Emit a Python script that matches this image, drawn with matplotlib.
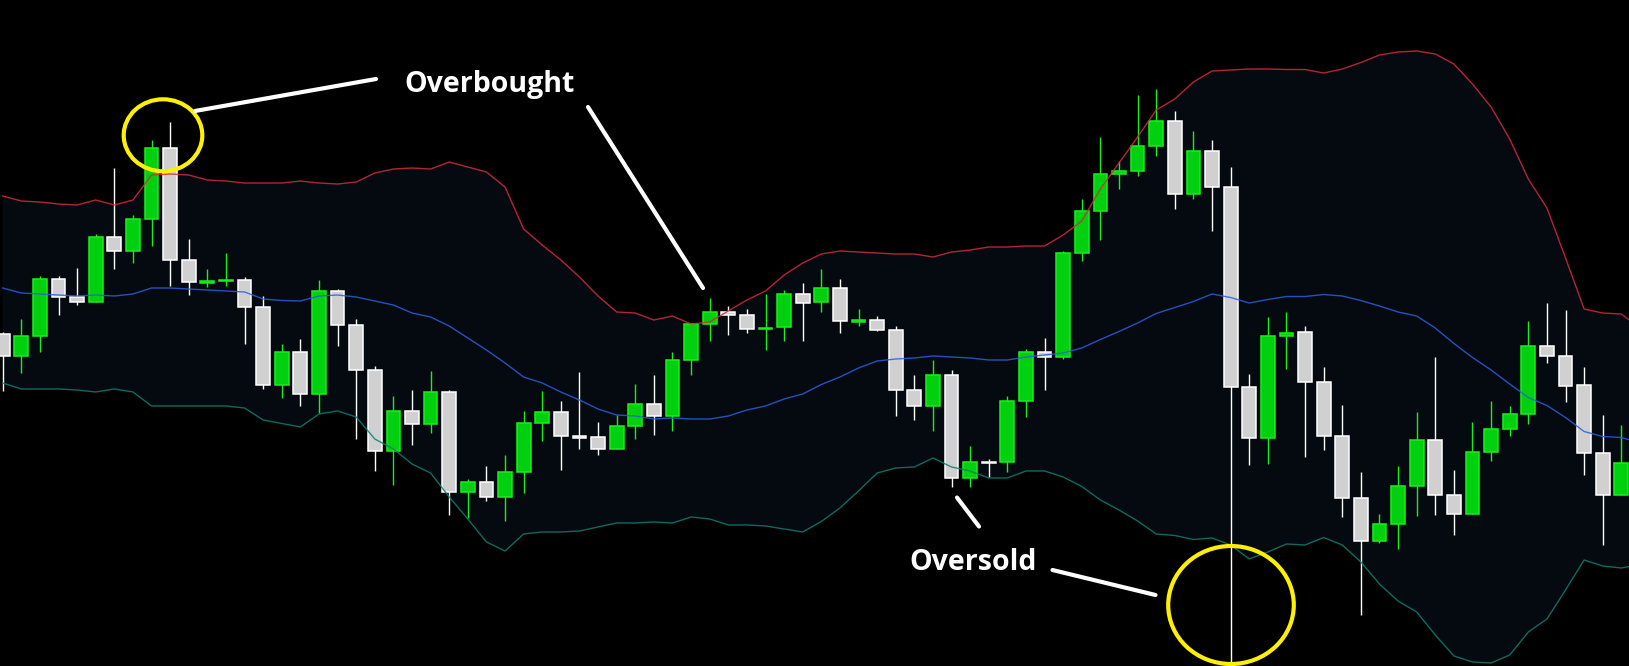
"""Candlestick chart with Bollinger Bands, marking an overbought and an oversold touch."""

import numpy as np
import matplotlib

matplotlib.use("Agg")
import matplotlib.pyplot as plt
from matplotlib.patches import Ellipse

# --- OHLC per bar (price units) -------------------------------------------
opens = [332, 310, 330, 387, 369, 364, 429, 415, 447, 518,
         406, 383.5, 385, 386, 359, 281, 314, 272, 375, 341,
         296, 215, 255, 242, 274, 174, 184, 169, 194, 243,
         254, 230, 229, 217, 240, 262, 250, 306, 342, 354,
         351, 337, 339, 372, 364, 378, 344.5, 346, 336, 276,
         260, 291, 188, 204, 204, 265, 314, 309, 413, 455,
         492, 495, 520, 545, 472, 515, 479.5, 279, 228, 330,
         334, 284, 230, 168, 125, 142, 180, 226, 171, 152,
         214, 237, 252, 320, 310, 281, 213, 171]
highs = [334, 347, 390, 390, 398, 432, 498, 451, 526, 544,
         427, 397, 413, 389, 370, 322, 327, 386, 377, 347,
         300, 270, 276, 295, 276, 187, 200, 211, 255, 275,
         265, 294, 244, 251, 282, 291, 314, 342, 368, 360,
         357, 372, 376, 383, 397, 387, 357, 350, 340, 291,
         306, 296, 220, 207, 270, 317, 328, 415, 467, 529,
         505, 571, 577, 555, 535, 526, 499, 292, 349, 354,
         340, 299, 261, 194, 152, 200, 254, 309, 196, 244,
         265, 260, 345, 363, 356, 299, 251, 241]
lows = [275, 293, 314, 351, 361, 364, 397, 403, 420, 380,
        371, 379, 380, 322, 277, 268, 260, 253, 320, 227,
        195, 181, 221, 233, 151, 148, 165, 145, 173, 225,
        196, 217, 211, 217, 227, 231, 235, 291, 325, 331,
        333, 316, 325, 325, 354, 333, 340, 335, 250, 246,
        235, 179, 179, 189, 194, 249, 276, 307, 405, 426,
        477, 490, 510, 457, 467, 435, -4, 201, 202, 297,
        209, 216, 149, 51, 123, 117, 150, 151, 131, 152,
        205, 230, 242, 303, 264, 191, 121, 171]
closes = [310, 330, 387, 369, 364, 429, 415, 447, 518, 406,
          384, 385, 386.5, 359, 281, 314, 272, 375, 341, 296,
          215, 255, 242, 274, 174, 184, 169, 194, 243, 254,
          230, 228.5, 217, 240, 262, 250, 306, 342, 354, 351,
          337, 338.5, 372, 363, 378, 345, 346, 336, 276, 260,
          291, 188, 204, 203, 265, 314, 309, 413, 455, 492,
          495.5, 520, 545, 472, 515, 479.5, 279, 228, 330, 333.5,
          284, 230, 168, 125, 142, 180, 226, 171, 152, 214,
          237, 252, 320, 310, 280, 213, 171, 203]

# --- Bollinger Bands (one extra value: next bar, just past the right edge) --
bb_upper = [470, 465, 464, 462, 461, 466, 461, 466, 491, 492,
            491, 486, 485, 483, 483, 483, 485, 483, 482, 484,
            493, 497, 498, 497, 504, 499, 494, 479, 437, 421,
            406, 389, 370, 354, 353, 346, 350, 342, 344, 355,
            366, 375, 391, 403, 412, 415, 414, 413, 412, 412,
            409, 414, 416, 419, 419, 420, 420, 431, 445, 477,
            503, 529, 556, 567, 584, 595, 596, 597, 597, 596.5,
            596.5, 593, 597, 603.5, 611, 614, 615, 612, 602, 582,
            559, 527, 487, 458, 408, 357, 353, 352, 338]
bb_middle = [378, 373, 372, 371, 370, 371, 370, 372, 378, 378,
             377, 376, 375, 374, 367, 365.5, 365, 370, 371, 369,
             365, 361, 353, 349, 340, 328, 316, 303, 289, 283,
             274, 266, 257, 251, 250, 247, 248, 247, 247, 250,
             256, 260, 267, 272, 281.5, 289, 298, 305, 307, 308,
             310, 309, 308, 306, 306, 309, 311, 313, 318, 326.5,
             334.5, 343, 352.5, 358.5, 364.5, 372, 368.5, 363, 366.5, 369.5,
             369.5, 371.5, 370, 365.5, 360, 354, 350, 338, 322.5, 308.5,
             296, 282, 268.5, 260.5, 248.5, 234.5, 229.5, 228.5, 223]
bb_lower = [283, 277, 277, 277, 276, 274, 277, 274, 260, 260,
            260, 260, 260, 258, 246, 242.5, 239, 252, 255, 249,
            227, 217, 202, 193, 169, 147, 124, 115, 132, 134,
            134, 135, 139, 143, 143, 144, 143, 149, 147, 141,
            141, 140, 137, 134, 144.5, 158, 175, 193, 198, 199,
            208, 199, 195, 188, 188, 195, 195, 189, 179.5, 166,
            156, 145, 132, 130.5, 126.5, 128, 121, 107, 114, 122,
            121, 128.5, 121, 104, 82, 65, 54, 31, 10, 4,
            3, 11, 34, 47, 76, 106, 100, 98, 101.5]

# --- layout / style -------------------------------------------------------
W_PX, H_PX, DPI = 1629, 666, 100
FIRST_BAR_PX = 2.7      # x pixel of bar 0 centre
BAR_STEP_PX = 18.605    # pixels between bar centres
PRICE_RANGE = (0, 666)

BG = "#000000"
BAND_FILL = "#050a10"
UP_FILL, UP_EDGE = "#00d010", "#19f019"
DN_FILL, DN_EDGE = "#d0d0d0", "#ffffff"
UPPER_C, MIDDLE_C, LOWER_C = "#d42a3c", "#2a5ee0", "#0e7e6c"
YELLOW = "#fff000"
FONT = ["Open Sans", "DejaVu Sans"]


def draw_candles(ax):
    o = np.array(opens, float)
    h = np.array(highs, float)
    lo = np.array(lows, float)
    c = np.array(closes, float)
    x = np.arange(len(o))
    up = c >= o
    ax.vlines(x[up], lo[up], h[up], color=UP_EDGE, lw=1.0, zorder=3)
    ax.vlines(x[~up], lo[~up], h[~up], color=DN_EDGE, lw=1.0, zorder=3)
    ax.bar(x[up], c[up] - o[up], bottom=o[up], width=0.74,
           color=UP_FILL, edgecolor=UP_EDGE, linewidth=1.1, zorder=4)
    ax.bar(x[~up], c[~up] - o[~up], bottom=o[~up], width=0.74,
           color=DN_FILL, edgecolor=DN_EDGE, linewidth=1.1, zorder=4)


def draw_bands(ax):
    xb = np.arange(len(bb_upper))
    ax.fill_between(xb, bb_lower, bb_upper, color=BAND_FILL, lw=0, zorder=1)
    ax.plot(xb, bb_upper, color=UPPER_C, lw=1.0, zorder=5, alpha=0.85)
    ax.plot(xb, bb_middle, color=MIDDLE_C, lw=1.0, zorder=5, alpha=0.85)
    ax.plot(xb, bb_lower, color=LOWER_C, lw=1.0, zorder=5, alpha=0.85)


def px(x_px, y_px):
    """Pixel position in the picture -> (bar index, price)."""
    return (x_px - FIRST_BAR_PX) / BAR_STEP_PX, PRICE_RANGE[1] - y_px


def draw_notes(ax):
    seg = dict(color="white", lw=3.0, solid_capstyle="round", zorder=7)
    for (x0, y0), (x1, y1) in [((195, 111), (376, 79)),
                               ((588, 107), (703, 288)),
                               ((957, 497.5), (979, 526.5)),
                               ((1052.5, 570), (1155.5, 595))]:
        a, b = px(x0, y0), px(x1, y1)
        ax.plot([a[0], b[0]], [a[1], b[1]], **seg)

    for cx, cy, rx, ry in [(163, 135.3, 39.3, 36), (1231, 605, 62.8, 59)]:
        xc, yc = px(cx, cy)
        ax.add_patch(Ellipse((xc, yc), 2 * rx / BAR_STEP_PX, 2 * ry,
                             fill=False, edgecolor=YELLOW, lw=3.0, zorder=6))

    tx = dict(color="white", fontsize=20.5, fontweight="bold", family=FONT,
              va="baseline", ha="left", zorder=8)
    ax.text(*px(404, 91.7), "Overbought", **tx)
    ax.text(*px(909, 570), "Oversold", **tx)


def main():
    fig = plt.figure(figsize=(W_PX / DPI, H_PX / DPI), dpi=DPI, facecolor=BG)
    ax = fig.add_axes([0, 0, 1, 1])
    ax.set_facecolor(BG)

    draw_bands(ax)
    draw_candles(ax)
    draw_notes(ax)

    ax.set_xlim(-FIRST_BAR_PX / BAR_STEP_PX, (W_PX - FIRST_BAR_PX) / BAR_STEP_PX)
    ax.set_ylim(*PRICE_RANGE)
    ax.axis("off")

    fig.savefig("out.png", dpi=DPI, facecolor=BG)
    plt.close(fig)


if __name__ == "__main__":
    main()
